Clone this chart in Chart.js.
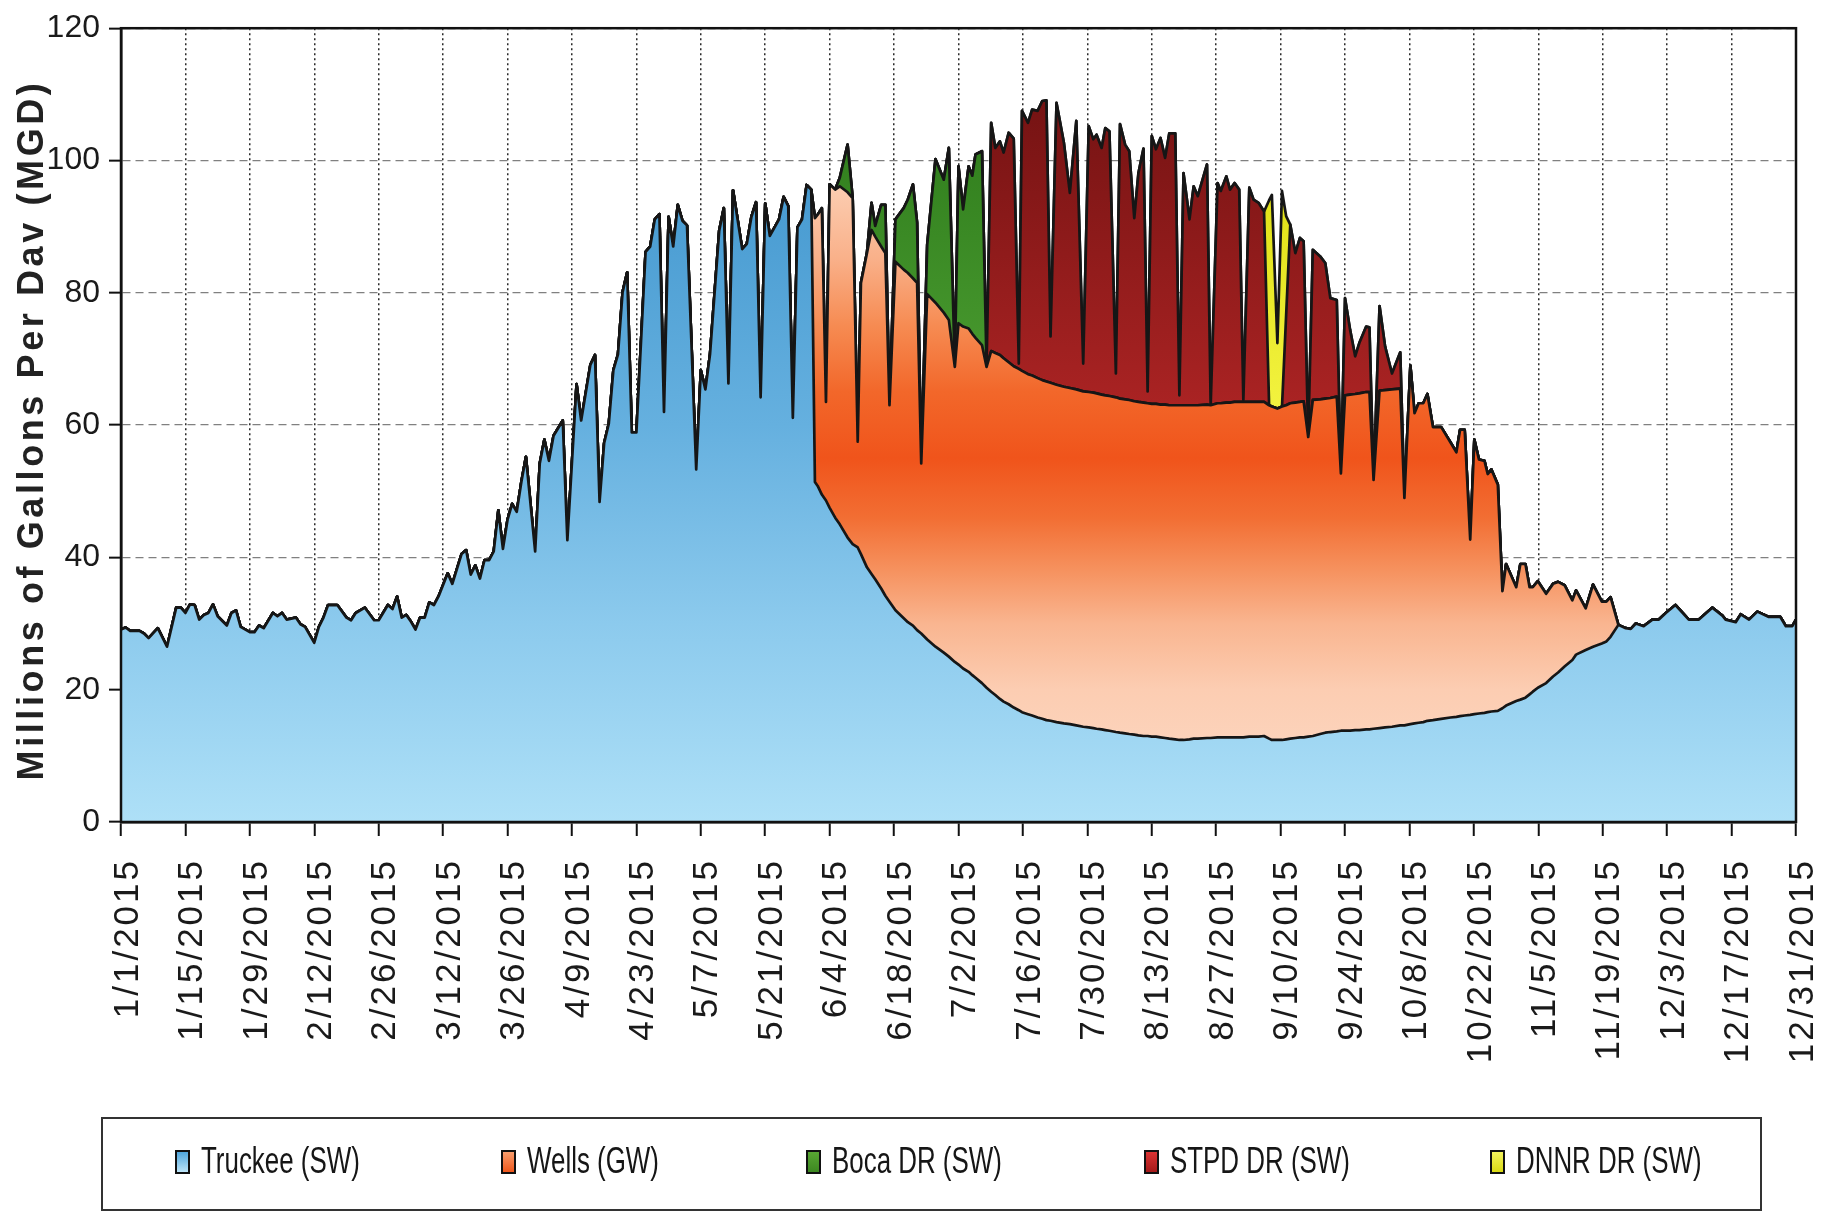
<!DOCTYPE html>
<html>
<head>
<meta charset="utf-8">
<title>Daily supply by source, 2015</title>
<script src="https://cdn.jsdelivr.net/npm/chart.js@4.4.1/dist/chart.umd.min.js"></script>
<style>
  html, body { margin: 0; padding: 0; background: #fff; }
  #wrap { width: 1841px; height: 1215px; }
</style>
</head>
<body>
<div id="wrap"><canvas id="supply" width="1841" height="1215"></canvas></div>
<script>
const seriesNames = ['Truckee (SW)', 'Wells (GW)', 'Boca DR (SW)', 'STPD DR (SW)', 'DNNR DR (SW)'];
const yTitle = 'Millions of Gallons Per Dav (MGD)';

// x tick labels, one every 14 days
const tickLabels = ['1/1/2015', '1/15/2015', '1/29/2015', '2/12/2015', '2/26/2015', '3/12/2015', '3/26/2015',
    '4/9/2015', '4/23/2015', '5/7/2015', '5/21/2015', '6/4/2015', '6/18/2015', '7/2/2015', '7/16/2015',
    '7/30/2015', '8/13/2015', '8/27/2015', '9/10/2015', '9/24/2015', '10/8/2015', '10/22/2015',
    '11/5/2015', '11/19/2015', '12/3/2015', '12/17/2015', '12/31/2015'];

// day of year (0 = 1/1/2015) of every vertex
const days = [
    0, 1, 2, 4, 5, 6, 8, 10, 12, 13,
    14, 15, 16, 17, 18, 19, 20, 21, 23, 24,
    25, 26, 28, 29, 30, 31, 33, 34, 35, 36,
    38, 39, 40, 42, 43, 44, 45, 47, 49, 50,
    51, 53, 55, 56, 58, 59, 60, 61, 62, 63,
    64, 65, 66, 67, 68, 69, 71, 72, 74, 75,
    76, 77, 78, 79, 80, 81, 82, 83, 84, 85,
    86, 87, 88, 90, 91, 92, 93, 94, 96, 97,
    99, 100, 102, 103, 104, 105, 106, 107, 108, 109,
    110, 111, 112, 114, 115, 116, 117, 118, 119, 120,
    121, 122, 123, 125, 126, 127, 128, 130, 131, 132,
    133, 135, 136, 137, 138, 139, 140, 141, 143, 144,
    145, 146, 147, 148, 149, 150,
    150.8, 151.4, 152.3, 153.2, 154, 155.2, 156.2, 157.9, 159, 160.1,
    160.8, 162.1, 163.1, 163.9, 165.2, 166.1, 167, 168.3, 170.1, 171,
    172.1, 173, 173.9, 175.2, 177, 178.8, 179.9, 181.2, 182, 183,
    184.2, 185, 185.7, 187.1, 188.1, 189.1, 190, 191, 191.8, 192.9,
    194, 195.1, 195.8, 197.1, 198, 199.2, 200.2, 201.1, 202, 203.3,
    204.9, 206.2, 207.6, 209.1, 210.3, 211.3, 212, 213.1, 213.9, 214.8,
    216.2, 217.1, 218.2, 219.1, 220.2, 221.1, 222.2, 223.1, 224, 224.9,
    225.9, 226.9, 227.8, 229.1, 230, 230.9, 232.2, 233.1, 234, 236,
    236.8, 238.3, 239, 240.2, 241, 242, 243, 243.9, 245.2, 246.1,
    247.2, 248.4, 249.5, 250.1, 251.3, 252.3, 253.2, 254.1, 255.2, 256.2,
    257, 258, 259, 260.6, 261.7, 262.8, 264.2, 265.1, 266, 267.1,
    268.2, 269.1, 270.6, 271.3, 272.2, 273.5, 274.7, 276.2, 278, 278.9,
    280.2, 281.1, 282, 283, 283.9, 285.1, 286.9, 288.9, 290.2, 291,
    292, 293.2, 294.1, 295.1, 296.3, 297, 297.8, 299.2, 300.2, 301,
    303.2, 304.1, 305.2, 306.1, 306.8, 307.9, 309.7, 311.2, 312.3, 313.7,
    315.4, 316.2, 318.3, 319.9, 321.8, 322.8, 323.7, 325.4,
    327, 328.1, 329.2, 330.9, 332.8, 334.2, 335.7, 337.8, 340.7, 342.9,
    345.8, 348, 348.7, 350.9, 352, 353.8, 355.6, 358.1, 360.6, 361.8,
    363.2, 364
];

// Truckee (SW), MGD, one value per entry of days
const truckee = [
    29.1, 29.4, 28.9, 28.9, 28.5, 27.8, 29.3, 26.5, 32.4, 32.4,
    31.6, 32.9, 32.8, 30.6, 31.3, 31.6, 32.9, 31.1, 29.7, 31.6,
    32.0, 29.5, 28.7, 28.7, 29.7, 29.3, 31.6, 31.1, 31.6, 30.6,
    30.9, 29.9, 29.5, 27.1, 29.5, 30.9, 32.8, 32.8, 30.9, 30.5,
    31.6, 32.4, 30.5, 30.5, 32.8, 32.2, 34.1, 30.9, 31.3, 30.3,
    29.1, 30.9, 30.9, 33.2, 32.8, 34.1, 37.6, 36.0, 40.5, 41.1,
    37.4, 38.8, 36.8, 39.6, 39.6, 40.9, 47.1, 41.3, 45.7, 48.1,
    46.9, 51.4, 55.2, 40.9, 54.2, 57.8, 54.6, 58.4, 60.7, 42.6,
    66.2, 60.7, 69.1, 70.6, 48.4, 57.3, 60.2, 68.3, 70.7, 80.1,
    83.1, 58.9, 58.9, 86.2, 87.0, 91.1, 91.9, 62.0, 91.5, 87.0,
    93.3, 90.9, 90.2, 53.3, 68.3, 65.4, 70.7, 89.4, 92.8, 66.3,
    95.5, 86.6, 87.4, 91.5, 93.7, 64.2, 93.5, 88.6, 91.1, 94.5,
    93.1, 61.1, 89.9, 91.1, 96.3, 95.6,
    51.4, 50.8, 49.5, 48.6, 47.5, 46.0, 45.0, 43.0, 42.0, 41.5,
    40.5, 38.5, 37.5, 36.7, 35.3, 34.2, 33.3, 32.0, 30.8, 30.2,
    29.7, 29.0, 28.5, 27.6, 26.5, 25.6, 25.0, 24.2, 23.8, 23.2,
    22.7, 22.2, 21.8, 21.0, 20.3, 19.7, 19.2, 18.6, 18.2, 17.8,
    17.3, 16.9, 16.6, 16.3, 16.1, 15.8, 15.6, 15.4, 15.3, 15.1,
    14.9, 14.8, 14.6, 14.4, 14.3, 14.2, 14.1, 14.0, 13.9, 13.8,
    13.6, 13.5, 13.4, 13.3, 13.2, 13.1, 13.0, 13.0, 12.9, 12.9,
    12.8, 12.7, 12.6, 12.5, 12.4, 12.4, 12.5, 12.6, 12.6, 12.7,
    12.7, 12.8, 12.8, 12.8, 12.8, 12.8, 12.8, 12.8, 12.9, 12.9,
    12.9, 13.0, 12.6, 12.4, 12.4, 12.4, 12.5, 12.6, 12.7, 12.8,
    12.8, 12.9, 13.0, 13.3, 13.5, 13.6, 13.7, 13.8, 13.8, 13.8,
    13.9, 13.9, 14.0, 14.0, 14.1, 14.2, 14.3, 14.4, 14.6, 14.6,
    14.8, 14.9, 15.0, 15.1, 15.3, 15.4, 15.6, 15.8, 15.9, 16.0,
    16.1, 16.2, 16.3, 16.4, 16.5, 16.6, 16.7, 16.8, 17.2, 17.6,
    18.3, 18.5, 18.8, 19.3, 19.7, 20.3, 21.0, 22.0, 22.6, 23.5,
    24.5, 25.3, 26.0, 26.5, 27.0, 27.3, 28.0, 29.8,
    29.3, 29.2, 30.0, 29.6, 30.6, 30.6, 31.6, 32.8, 30.6, 30.6,
    32.4, 31.2, 30.6, 30.2, 31.4, 30.6, 31.8, 31.0, 31.0, 29.6,
    29.6, 30.6
];

// Wells (GW), values from day 150 onward (zero elsewhere)
const wellsStart = 150;
const wells = [
    0,
    39.9, 41.0, 43.3, 14.9, 48.9, 49.6, 51.1, 52.2, 52.3, 16.0,
    41.0, 47.5, 52.0, 51.8, 51.7, 51.8, 29.7, 52.7, 52.7, 52.8,
    52.5, 52.5, 25.7, 52.2, 52.0, 51.4, 50.9, 44.6, 51.6, 51.7,
    51.9, 51.6, 51.4, 51.1, 48.5, 51.5, 51.7, 52.0, 51.9, 51.7,
    51.6, 51.6, 51.6, 51.4, 51.4, 51.3, 51.2, 51.2, 51.1, 51.0,
    50.9, 50.8, 50.8, 50.7, 50.7, 50.7, 50.7, 50.6, 50.6, 50.6,
    50.6, 50.5, 50.5, 50.5, 50.4, 50.4, 50.4, 50.3, 50.3, 50.3,
    50.3, 50.4, 50.4, 50.5, 50.6, 50.6, 50.5, 50.4, 50.4, 50.4,
    50.3, 50.5, 50.5, 50.6, 50.6, 50.7, 50.7, 50.7, 50.6, 50.6,
    50.6, 50.5, 50.4, 50.4, 50.1, 50.4, 50.5, 50.7, 50.7, 50.7,
    50.8, 45.3, 50.8, 50.6, 50.5, 50.5, 50.6, 38.9, 50.7, 50.8,
    50.8, 50.9, 51.0, 51.0, 37.6, 51.0, 51.0, 51.0, 50.9, 34.4,
    54.2, 46.9, 48.3, 48.2, 49.4, 44.3, 44.1, 41.6, 40.0, 43.3,
    43.2, 26.5, 41.5, 38.4, 38.1, 36.0, 36.6, 34.2, 17.7, 21.4,
    17.2, 20.5, 20.2, 16.2, 15.8, 16.1, 13.5, 14.0, 13.7, 12.3,
    9.0, 9.7, 6.3, 9.4, 6.3, 6.0, 6.0, 0
];

// Boca DR (SW), values from day 155.2 onward
const bocaStart = 155.2;
const boca = [
    0, 1.3, 7.2, 0, 0, 0, 0, 4.1, 1.6, 6.3,
    7.3, 0, 6.4, 9.3, 11.1, 14.2, 9.1, 0, 7.5, 21.7,
    20.1, 26.0, 0, 23.7, 17.7, 24.5, 23.9, 27.7, 29.3, 0
];

// STPD DR (SW), values from day 188.1 onward
const stpdStart = 188.1;
const stpd = [
    0, 34.5, 31.0, 32.3, 31.1, 34.7,
    34.4, 0.8, 39.3, 38.0, 40.2, 40.4, 42.2, 42.5, 7.0, 42.6,
    36.9, 29.5, 40.6, 4.2, 40.2, 38.3, 39.1, 37.3, 40.4, 40.0,
    3.6, 41.5, 38.5, 37.6, 27.7, 34.6, 38.4, 1.8, 40.5, 38.5,
    40.3, 37.3, 41.1, 41.1, 1.5, 35.1, 28.1, 33.1, 31.6, 36.3,
    0, 33.3, 32.1, 34.2, 32.2, 33.1, 32.1, 0.3, 32.4, 30.6,
    30.1, 28.8, 0, 0, 0, 0, 13.6, 27.0, 22.6, 24.8,
    24.2, 0, 22.7, 21.6, 20.5, 15.1, 14.6, 0, 14.7, 9.8,
    5.7, 7.6, 9.9, 9.8, 0, 12.8, 6.6, 2.4, 5.5, 0
];

// DNNR DR (SW), values from day 248.4 onward
const dnnrStart = 248.4;
const dnnr = [0, 31.0, 32.0, 9.9, 32.6, 15.0, 0];

function spread(startDay, values) {
    const out = days.map(() => 0);
    const from = days.indexOf(startDay);
    values.forEach((v, k) => { out[from + k] = v; });
    return out;
}

function toPoints(values) {
    return days.map((d, i) => ({ x: d, y: values[i] }));
}

const fontFamily = "'Liberation Sans', Arial, sans-serif";

// vertical colour ramps, keyed on the y value
const truckeeRamp = [[120, '#2c80bd'], [95, '#489bd1'], [60, '#65b0df'], [30, '#8ccaed'], [0, '#aee0f7']];
const wellsRamp = [[110, '#fddcc8'], [96, '#fccdb1'], [85, '#f9b089'], [75, '#f68b52'], [65, '#f2672a'],
    [55, '#f0541b'], [46, '#f26e33'], [38, '#f6925f'], [30, '#f9b590'], [20, '#fccdb2'], [0, '#fddcc8']];
const bocaRamp = [[110, '#2d7a1b'], [60, '#4d9f32']];
const stpdRamp = [[112, '#721212'], [60, '#ad2424']];
const dnnrRamp = [[100, '#dede12'], [60, '#f4f442']];

function rampFill(chart, ramp) {
    const { ctx, chartArea, scales } = chart;
    if (!chartArea) return ramp[0][1];
    const top = scales.y.getPixelForValue(120);
    const bottom = scales.y.getPixelForValue(0);
    const g = ctx.createLinearGradient(0, top, 0, bottom);
    ramp.forEach(([v, c]) => g.addColorStop((120 - v) / 120, c));
    return g;
}

function areaSet(label, values, ramp, fill) {
    return {
        label: label,
        data: toPoints(values),
        fill: fill,
        backgroundColor: (c) => rampFill(c.chart, ramp),
        borderColor: '#161616',
        borderWidth: 2.7,
        borderJoinStyle: 'round',
        pointRadius: 0,
        tension: 0
    };
}

const plotFrame = {
    id: 'plotFrame',
    afterDatasetsDraw(chart) {
        const { ctx, chartArea: a } = chart;
        ctx.save();
        ctx.strokeStyle = '#111';
        ctx.lineWidth = 2.5;
        ctx.strokeRect(a.left, a.top, a.right - a.left, a.bottom - a.top);
        ctx.restore();
    }
};

// the date labels are letter-spaced in the original
const spacedDates = {
    id: 'spacedDates',
    afterUpdate(chart) {
        const xs = chart.scales.x;
        if (!xs || xs._spaced) return;
        const drawLabels = xs.drawLabels;
        xs.drawLabels = function (area) {
            const c = this.ctx;
            c.save();
            c.letterSpacing = '3px';
            drawLabels.call(this, area);
            c.restore();
        };
        xs._spaced = true;
    }
};

const axisTitle = {
    id: 'axisTitle',
    afterDraw(chart) {
        const ctx = chart.ctx;
        ctx.save();
        ctx.translate(33, 430);
        ctx.rotate(-Math.PI / 2);
        ctx.font = 'bold 36px ' + fontFamily;
        ctx.letterSpacing = '3.6px';
        ctx.fillStyle = '#222';
        ctx.textAlign = 'center';
        ctx.textBaseline = 'middle';
        ctx.fillText(yTitle, 0, 0);
        ctx.restore();
    }
};

// legend box under the axis labels
const swatchColors = [['#4aa3dc', '#c2e8fa'], ['#f8a070', '#ef5418'], ['#5aa834', '#3b8720'],
    ['#dc3434', '#a31818'], ['#f4f460', '#d8d810']];
const legendX = [176, 502, 807, 1145, 1491];
const boxLegend = {
    id: 'boxLegend',
    afterDraw(chart) {
        const ctx = chart.ctx;
        ctx.save();
        ctx.strokeStyle = '#333';
        ctx.lineWidth = 2;
        ctx.strokeRect(102, 1118, 1659, 92);
        chart.data.datasets.forEach((ds, i) => {
            const x = legendX[i];
            const g = ctx.createLinearGradient(0, 1151, 0, 1173);
            g.addColorStop(0, swatchColors[i][0]);
            g.addColorStop(1, swatchColors[i][1]);
            ctx.fillStyle = g;
            ctx.fillRect(x, 1151, 13, 22);
            ctx.strokeStyle = '#111';
            ctx.lineWidth = 2;
            ctx.strokeRect(x, 1151, 13, 22);
            ctx.save();
            ctx.translate(x + 25, 1163);
            ctx.scale(0.7, 1);
            ctx.font = '37px ' + fontFamily;
            ctx.fillStyle = '#161616';
            ctx.textAlign = 'left';
            ctx.textBaseline = 'middle';
            ctx.fillText(ds.label, 0, 0);
            ctx.restore();
        });
        ctx.restore();
    }
};

new Chart(document.getElementById('supply'), {
    type: 'line',
    data: {
        datasets: [
            areaSet(seriesNames[0], truckee, truckeeRamp, 'origin'),
            areaSet(seriesNames[1], spread(wellsStart, wells), wellsRamp, '-1'),
            areaSet(seriesNames[2], spread(bocaStart, boca), bocaRamp, '-1'),
            areaSet(seriesNames[3], spread(stpdStart, stpd), stpdRamp, '-1'),
            areaSet(seriesNames[4], spread(dnnrStart, dnnr), dnnrRamp, '-1')
        ]
    },
    options: {
        responsive: false,
        animation: false,
        events: [],
        layout: { padding: { top: 22, right: 45, bottom: 0, left: 0 } },
        plugins: { legend: { display: false }, tooltip: { enabled: false } },
        scales: {
            x: {
                type: 'linear',
                min: 0,
                max: 364,
                afterFit(scale) {
                    scale.height = 393;
                    scale.paddingLeft = 0;
                    scale.paddingRight = 0;
                },
                ticks: {
                    stepSize: 14,
                    autoSkip: false,
                    minRotation: 90,
                    maxRotation: 90,
                    padding: 22,
                    labelOffset: 7,
                    color: '#1a1a1a',
                    font: { family: fontFamily, size: 35 },
                    callback: (v) => tickLabels[Math.round(v / 14)]
                },
                grid: { color: '#2a2a2a', lineWidth: 1.5, tickLength: 14, tickColor: '#111', tickWidth: 2 },
                border: { display: true, color: '#111', width: 2.5, dash: [2, 3] }
            },
            y: {
                stacked: true,
                min: 0,
                max: 120,
                afterFit(scale) { scale.width = 121; },
                ticks: {
                    stepSize: 20,
                    padding: 9,
                    color: '#1a1a1a',
                    font: { family: fontFamily, size: 32 }
                },
                grid: { color: '#808080', lineWidth: 1.3, tickLength: 12, tickColor: '#111', tickWidth: 2 },
                border: { display: true, color: '#111', width: 2.5, dash: [8, 5] }
            }
        }
    },
    plugins: [spacedDates, plotFrame, axisTitle, boxLegend]
});
</script>
</body>
</html>
